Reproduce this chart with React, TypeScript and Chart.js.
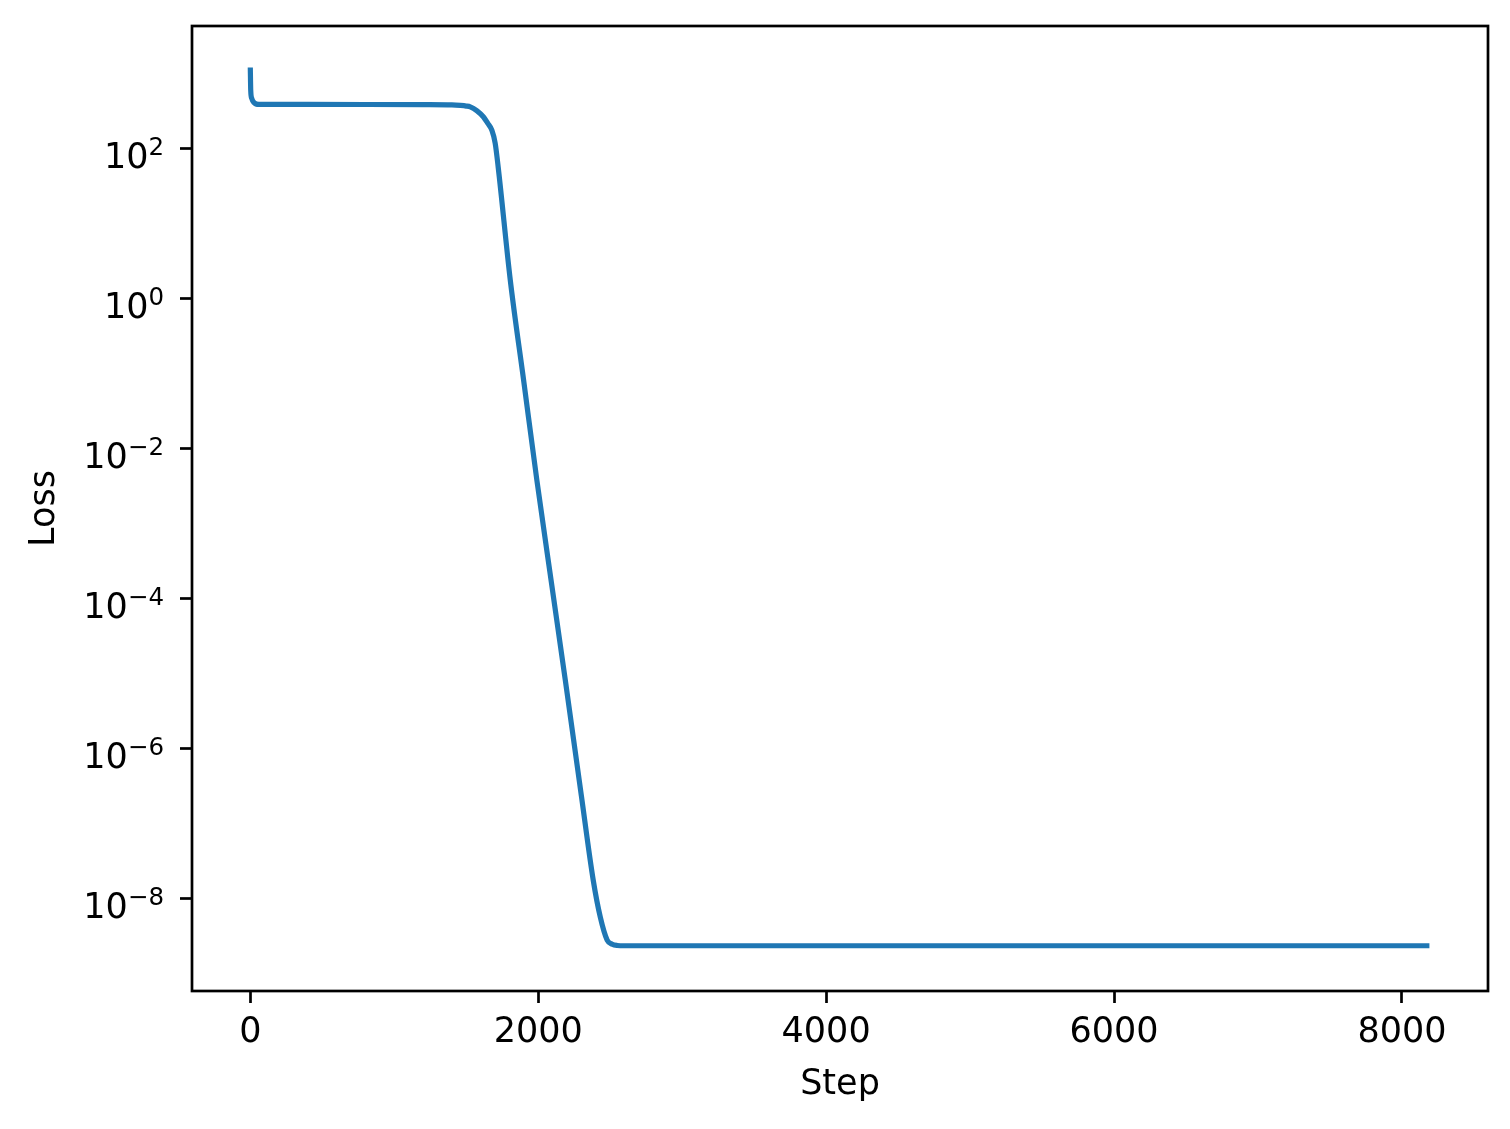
import React, { useEffect, useRef } from "react";
import { Chart, registerables } from "chart.js";

Chart.register(...registerables);

// Training steps (x) and loss values (y)
const steps = [0, 3, 10, 25, 60, 400, 800, 1200, 1400, 1460, 1500, 1528, 1575, 1620, 1650, 1678, 1701, 1722, 1806, 1900, 1991, 2100, 2188, 2300, 2382, 2431, 2479, 2514, 2549, 2600, 4000, 6000, 8191];
const losses = [1194, 590, 461, 408, 384, 384, 383, 381, 378, 372, 365, 356, 315, 261, 214, 174, 117, 56, 1.74, 0.077, 3.7e-3, 1.25e-4, 8.1e-6, 2.3e-7, 1.74e-8, 5.6e-9, 2.75e-9, 2.42e-9, 2.33e-9, 2.31e-9, 2.31e-9, 2.31e-9, 2.31e-9];

// Tick positions
const xTicks = [0, 2000, 4000, 6000, 8000];
const yTickExponents = [-8, -6, -4, -2, 0, 2];

const xLabel = "Step";
const yLabel = "Loss";

const X_MIN = -405;
const X_MAX = 8598;
const Y_MIN = Math.pow(10, -9.24);
const Y_MAX = Math.pow(10, 3.63);

const FONT = "'DejaVu Sans', sans-serif";
const FS = 35;
const W = 1510;
const H = 1129;
const LEFT = 192;
const RIGHT = 1488;
const TOP = 26;
const BOTTOM = 991;

const framePlugin = {
  id: "frame",
  afterDraw(chart: any) {
    const { ctx, chartArea } = chart;
    ctx.save();
    ctx.strokeStyle = "#000";
    ctx.lineWidth = 2.7;
    ctx.strokeRect(chartArea.left, chartArea.top, chartArea.right - chartArea.left, chartArea.bottom - chartArea.top);

    // y tick labels in the form 10^e with a raised exponent
    const yScale = chart.scales.y;
    const rightEdge = chartArea.left - 28;
    yTickExponents.forEach((e) => {
      const py = yScale.getPixelForValue(Math.pow(10, e));
      const base = "10";
      const exp = e < 0 ? "\u2212" + String(-e) : String(e);
      ctx.fillStyle = "#000";
      ctx.textBaseline = "alphabetic";
      ctx.textAlign = "left";
      ctx.font = `${FS}px ${FONT}`;
      const bw = ctx.measureText(base).width;
      ctx.font = `${FS * 0.7}px ${FONT}`;
      const ew = ctx.measureText(exp).width;
      const x0 = rightEdge - bw - ew;
      ctx.font = `${FS}px ${FONT}`;
      ctx.fillText(base, x0, py + 20);
      ctx.font = `${FS * 0.7}px ${FONT}`;
      ctx.fillText(exp, x0 + bw, py + 7);
    });
    ctx.restore();
  },
};

export default function App() {
  const ref = useRef<HTMLCanvasElement | null>(null);

  useEffect(() => {
    if (!ref.current) return;
    const data = steps.map((s, i) => ({ x: s, y: losses[i] }));
    const chart = new Chart(ref.current, {
      type: "line",
      data: {
        datasets: [
          {
            data,
            borderColor: "#1f77b4",
            borderWidth: 5.2,
            pointRadius: 0,
            cubicInterpolationMode: "monotone",
            fill: false,
            borderJoinStyle: "round",
            borderCapStyle: "butt",
          },
        ],
      },
      plugins: [framePlugin],
      options: {
        animation: false,
        responsive: false,
        devicePixelRatio: 1,
        layout: { padding: { top: TOP, right: W - RIGHT, left: 0, bottom: 0 } },
        plugins: { legend: { display: false }, tooltip: { enabled: false } },
        scales: {
          x: {
            type: "linear",
            min: X_MIN,
            max: X_MAX,
            bounds: "data",
            afterFit: (scale: any) => {
              scale.height = H - BOTTOM;
              scale.paddingLeft = 0;
              scale.paddingRight = 0;
            },
            afterBuildTicks: (scale: any) => {
              scale.ticks = xTicks.map((v) => ({ value: v }));
            },
            border: { display: false },
            grid: {
              display: true,
              drawOnChartArea: false,
              drawTicks: true,
              tickLength: 12,
              tickWidth: 2.7,
              tickColor: "#000",
              color: "transparent",
            },
            ticks: {
              color: "#000",
              padding: 9,
              maxRotation: 0,
              font: { family: FONT, size: FS, lineHeight: 1.2 },
              callback: (v: any) => String(v),
            },
            title: {
              display: true,
              text: xLabel,
              color: "#000",
              padding: { top: 0, bottom: 23 },
              font: { family: FONT, size: FS, lineHeight: 1.2 },
            },
          },
          y: {
            type: "logarithmic",
            min: Y_MIN,
            max: Y_MAX,
            bounds: "data",
            afterFit: (scale: any) => {
              scale.width = LEFT;
              scale.paddingTop = 0;
              scale.paddingBottom = 0;
            },
            afterBuildTicks: (scale: any) => {
              scale.ticks = yTickExponents.map((e) => ({ value: Math.pow(10, e) }));
            },
            border: { display: false },
            grid: {
              display: true,
              drawOnChartArea: false,
              drawTicks: true,
              tickLength: 12,
              tickWidth: 2.7,
              tickColor: "#000",
              color: "transparent",
            },
            ticks: {
              display: false,
            },
            title: {
              display: true,
              text: yLabel,
              color: "#000",
              padding: { top: 24, bottom: 0 },
              font: { family: FONT, size: FS, lineHeight: 1.2 },
            },
          },
        },
      },
    } as any);
    return () => chart.destroy();
  }, []);

  return (
    <div style={{ position: "fixed", left: 0, top: 0, width: W, height: H, background: "#fff" }}>
      <canvas ref={ref} width={W} height={H} style={{ display: "block", width: W, height: H }} />
    </div>
  );
}
